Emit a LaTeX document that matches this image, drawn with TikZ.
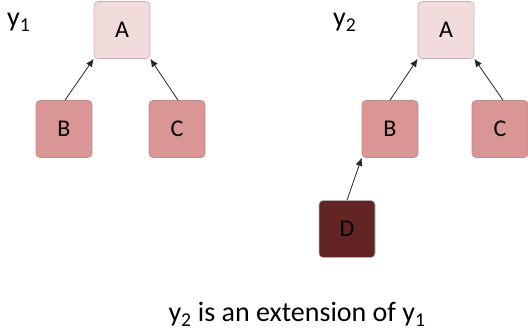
\documentclass[tikz,border=0pt]{standalone}
\usepackage{fontspec}
\setmainfont{Carlito}
\usetikzlibrary{arrows.meta}
\definecolor{lightA}{RGB}{242,220,219}
\definecolor{midB}{RGB}{217,150,148}
\definecolor{darkD}{RGB}{99,37,35}
\definecolor{edgeA}{RGB}{200,175,175}
\definecolor{edgeB}{RGB}{190,140,138}
\tikzset{
  box/.style={rounded corners=4pt, minimum width=56pt, minimum height=57pt, inner sep=0pt, font=\fontsize{24}{24}\selectfont, line width=0.6pt},
  boxA/.style={box, fill=lightA, draw=edgeA},
  boxB/.style={box, fill=midB, draw=edgeB},
  boxD/.style={box, fill=darkD, draw=gray!60},
  conn/.style={-{Latex[length=8pt,width=7pt]}, line width=0.8pt, draw=black!85},
  lbl/.style={font=\fontsize{28}{28}\selectfont, inner sep=0pt, anchor=base west}
}
\newcommand{\sub}[1]{\textsubscript{#1}}
\begin{document}
\begin{tikzpicture}[x=1pt,y=-1pt]
\useasboundingbox (0,0) rectangle (528,331);
% left tree
\node[boxA] (a1) at (122,30) {A};
\node[boxB] (b1) at (64,129) {B};
\node[boxB] (c1) at (177,129) {C};
\node[lbl] (y1) at (7,27) {y\sub{1}};
\draw[conn] (b1.north) ++(1,0) coordinate (b1s) (b1s) -- (a1.south west);
\draw[conn] (c1.north) ++(1,0) coordinate (c1s) (c1s) -- (a1.south east);
% right tree
\node[boxA] (a2) at (446,30) {A};
\node[boxB] (b2) at (390,129) {B};
\node[boxB] (c2) at (500,129) {C};
\node[boxD] (d) at (347,229) {D};
\node[lbl] (y2) at (333,27) {y\sub{2}};
\draw[conn] (b2.north) -- (a2.south west);
\draw[conn] (c2.north) ++(3,0) coordinate (c2s) (c2s) -- (a2.south east);
\draw[conn] (d.north) -- (b2.south west);
% caption
\node[lbl, anchor=base] (cap) at (297,322) {y\sub{2} is an extension of y\sub{1}};
\end{tikzpicture}
\end{document}
